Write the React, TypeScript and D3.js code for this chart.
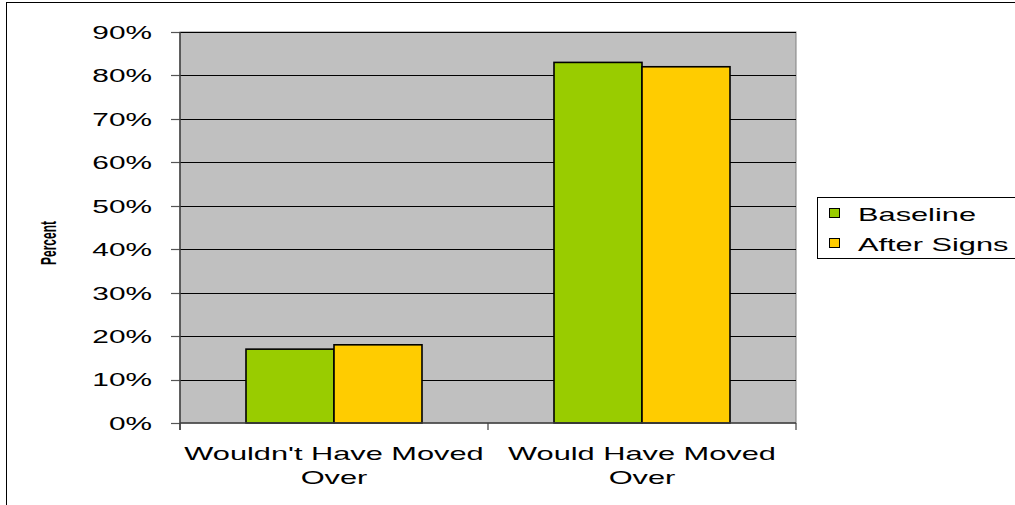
import React from "react";
import * as d3 from "d3";

const categories = ["Wouldn't Have Moved|Over", "Would Have Moved|Over"];
const seriesNames = ["Baseline", "After Signs"];
const baselineValues = [0.17, 0.83];
const afterSignsValues = [0.18, 0.82];
const yTicks = [0, 0.1, 0.2, 0.3, 0.4, 0.5, 0.6, 0.7, 0.8, 0.9];
const colors = ["#99CC00", "#FFCC00"];

const SX = 1.62;

function SText({ x, y, anchor = "start", size, children, dy = "0", sx = SX }: any) {
  return (
    <text transform={`translate(${x},${y}) scale(${sx},1)`} textAnchor={anchor} fontSize={size} dy={dy} fill="#000">
      {children}
    </text>
  );
}

export default function App() {
  const W = 1015, H = 505;
  const left = 180, right = 796, top = 32, bottom = 423;
  const x = d3.scaleBand<string>().domain(categories).range([left, right]).padding(0);
  const inner = d3.scaleBand<string>().domain(seriesNames).range([0, x.bandwidth()]).paddingInner(0).paddingOuter(0.75);
  const y = d3.scaleLinear().domain([0, 0.9]).range([bottom, top]);
  const series = [baselineValues, afterSignsValues];
  const font = "'Liberation Sans', Arial, sans-serif";
  return (
    <svg width={W} height={H} style={{ position: "absolute", left: 0, top: 0, background: "#fff" }} fontFamily={font}>
      <rect x={6.5} y={2.5} width={W + 10} height={H + 10} fill="none" stroke="#000" strokeWidth={1} />
      <rect x={left} y={top} width={right - left} height={bottom - top} fill="#C0C0C0" stroke="#808080" strokeWidth={1} />
      {yTicks.map((t) => (
        <g key={t}>
          {t > 0 && <line x1={left} x2={right} y1={Math.round(y(t)) + 0.5} y2={Math.round(y(t)) + 0.5} stroke="#000" strokeWidth={1} />}
          <line x1={left - 9} x2={left} y1={Math.round(y(t)) + 0.5} y2={Math.round(y(t)) + 0.5} stroke="#555" strokeWidth={1.2} />
          <SText x={152} y={y(t)} anchor="end" size={19} sx={1.57} dy="0.36em">{d3.format(".0%")(t)}</SText>
        </g>
      ))}
      {categories.map((c, ci) => (
        <g key={c}>
          {seriesNames.map((s, si) => {
            const v = series[si][ci];
            const bx = (x(c) as number) + (inner(s) as number);
            return (
              <rect key={s} x={bx} y={y(v)} width={inner.bandwidth()} height={bottom - y(v)} fill={colors[si]} stroke="#000" strokeWidth={1.6} />
            );
          })}
          {c.split("|").map((line, li) => (
            <SText key={li} x={(x(c) as number) + x.bandwidth() / 2} y={460 + li * 23.5} anchor="middle" size={19}>{line}</SText>
          ))}
        </g>
      ))}
      <line x1={left} x2={left} y1={top} y2={bottom + 7} stroke="#404040" strokeWidth={1.5} />
      <line x1={left} x2={right} y1={bottom} y2={bottom} stroke="#404040" strokeWidth={1.5} />
      {[0, 1, 2].map((i) => (
        <line key={i} x1={left + i * x.bandwidth()} x2={left + i * x.bandwidth()} y1={bottom} y2={bottom + 7} stroke="#404040" strokeWidth={1.2} />
      ))}
      <text transform={`translate(56,243) scale(1.9,1) rotate(-90)`} textAnchor="middle" fontSize={12} fontWeight="bold" fill="#000">Percent</text>
      <rect x={817.5} y={197.5} width={205} height={61} fill="#fff" stroke="#000" strokeWidth={1} />
      {seriesNames.map((s, i) => (
        <g key={s}>
          <rect x={829.5} y={208.5 + i * 30} width={10} height={9} fill={colors[i]} stroke="#000" strokeWidth={1} />
          <SText x={858} y={221 + i * 30} size={19}>{s}</SText>
        </g>
      ))}
    </svg>
  );
}
